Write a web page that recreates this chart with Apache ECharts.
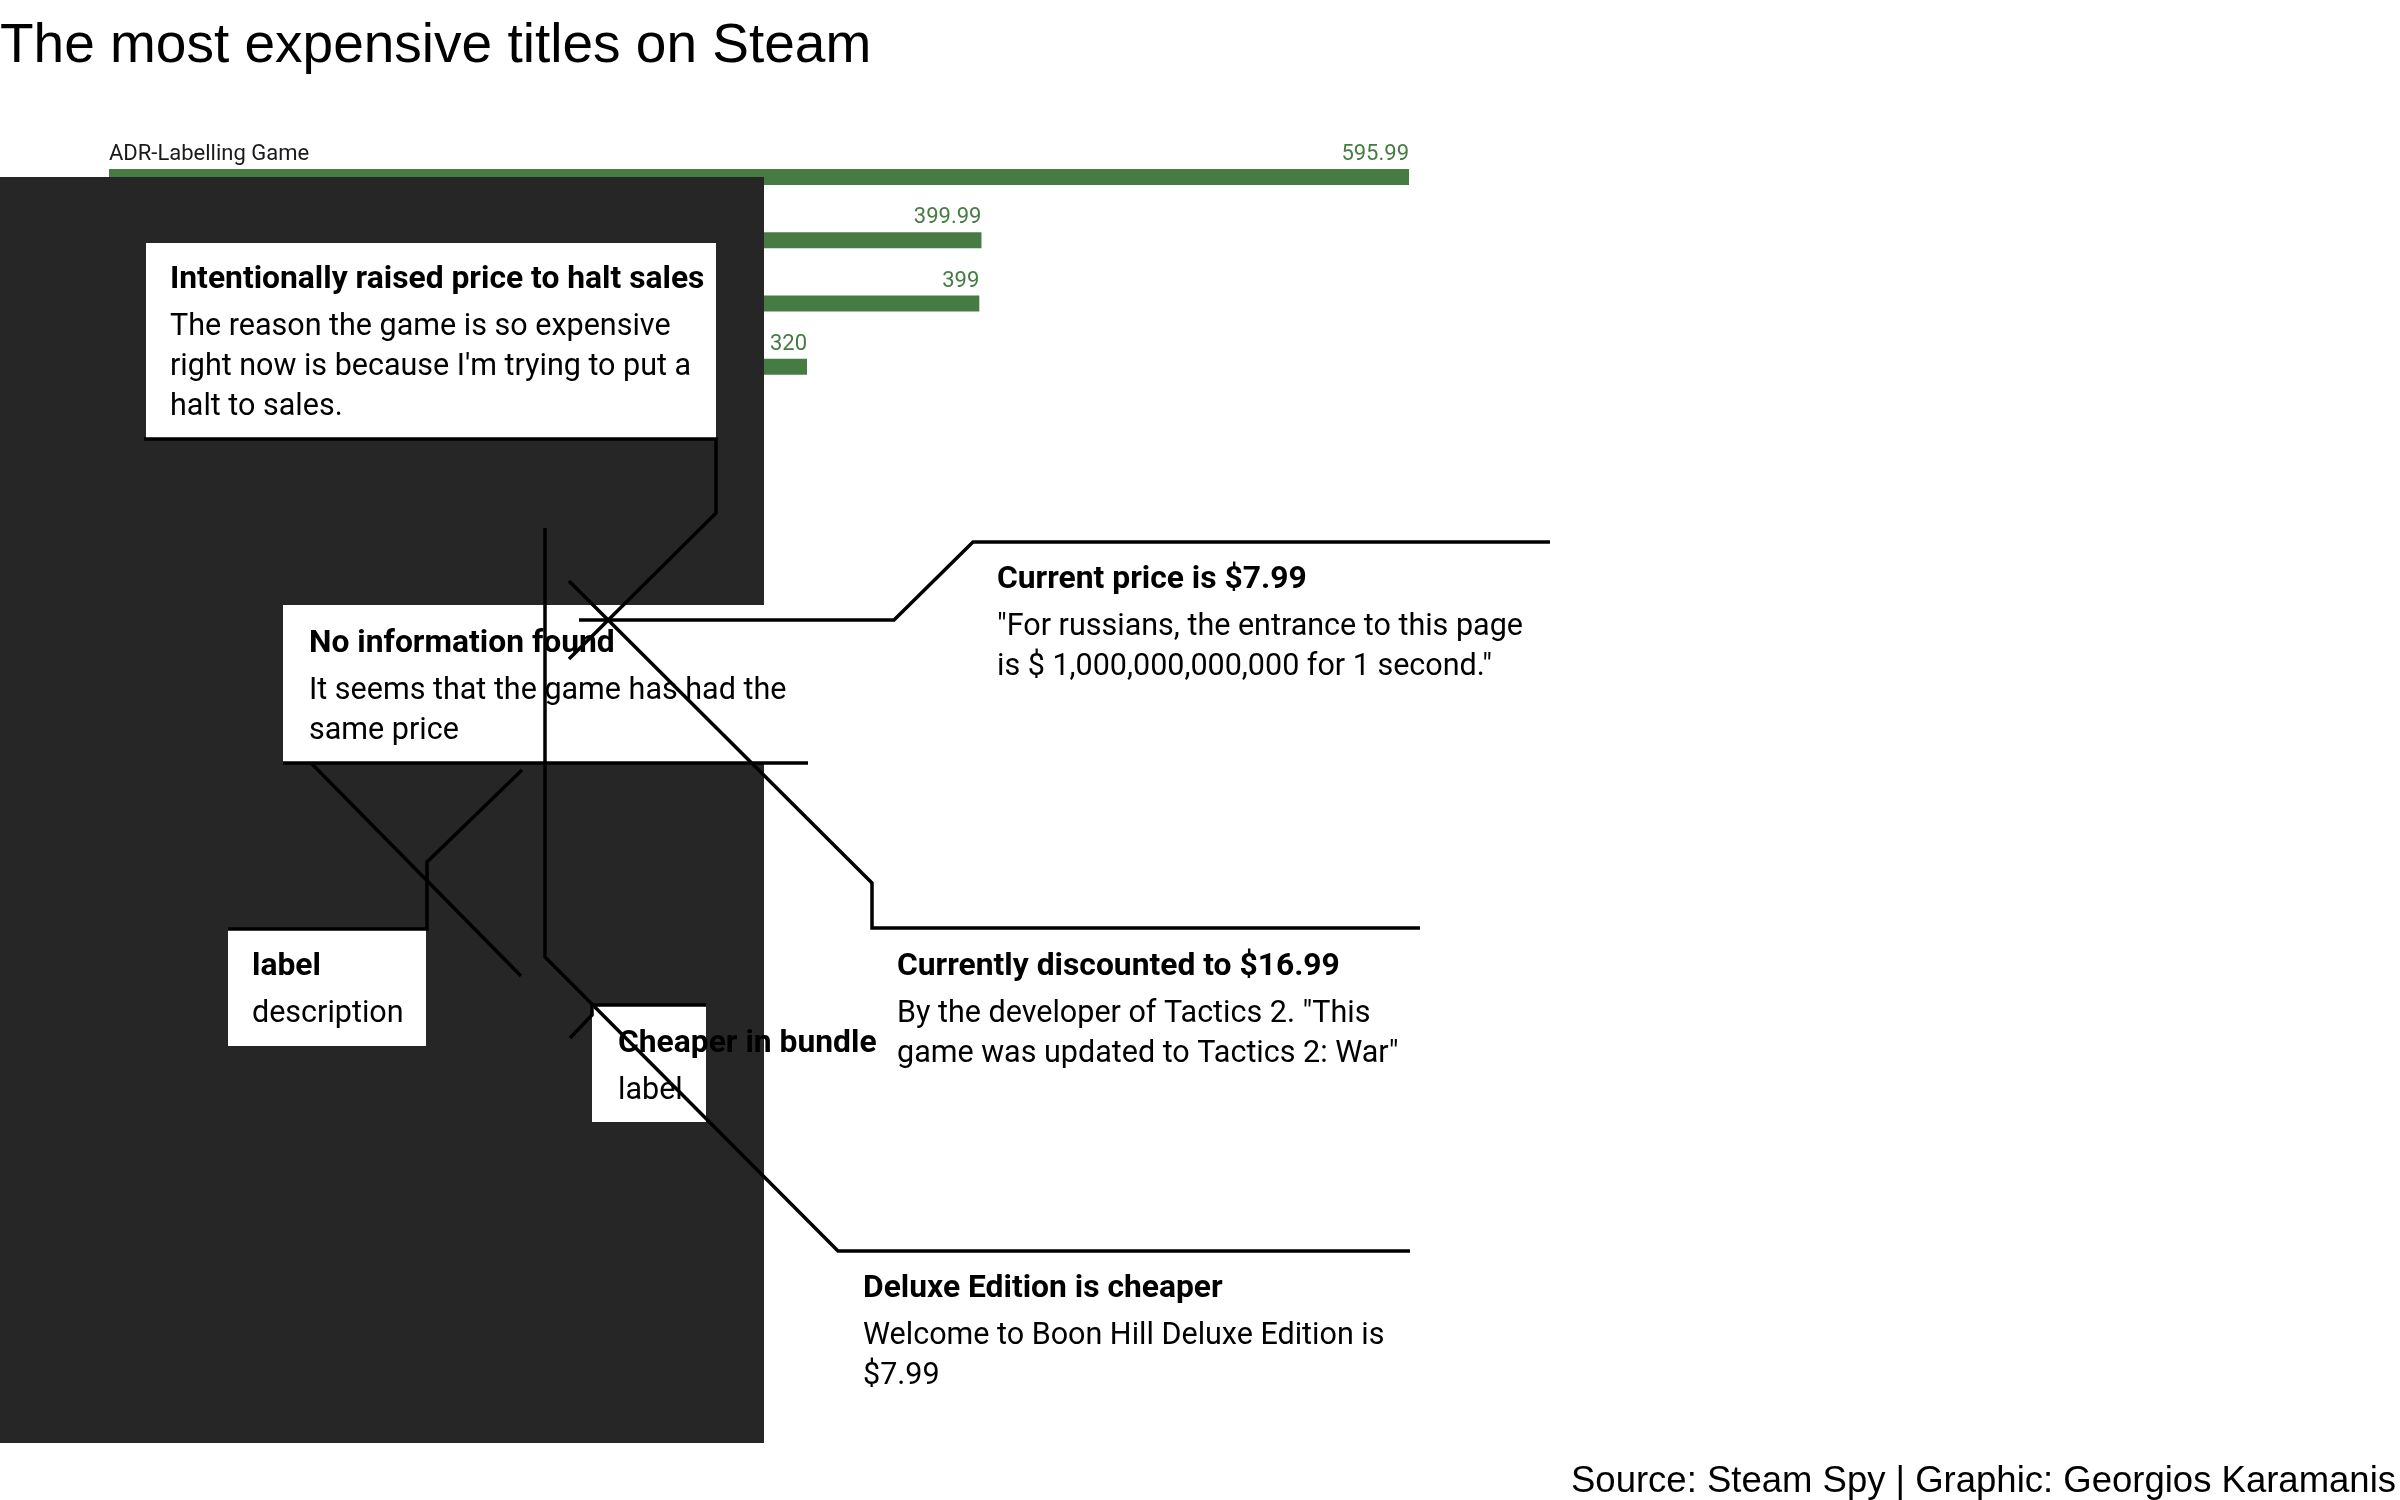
<!DOCTYPE html>
<html>
<head>
<meta charset="utf-8">
<script src="https://cdn.jsdelivr.net/npm/echarts@6/dist/echarts.min.js"></script>
<style>
html,body{margin:0;padding:0;background:#fff;}
#chart{width:2400px;height:1500px;}
</style>
</head>
<body>
<div id="chart"></div>
<script>
// ---------------- DATA ----------------
const rowIds = ['r1', 'r2', 'r3', 'r4'];
// Only the first title name is legible; the rest sit under the dark panel.
const gameNames = ['ADR-Labelling Game', '', '', ''];
const prices = [595.99, 399.99, 399, 320];
const priceLabels = ['595.99', '399.99', '399', '320'];

const chartTitle = 'The most expensive titles on Steam';
const caption = 'Source: Steam Spy | Graphic: Georgios Karamanis';

const noteTitles = [
  'Intentionally raised price to halt sales',
  'No information found',
  'label',
  'Cheaper in bundle',
  'Current price is $7.99',
  'Currently discounted to $16.99',
  'Deluxe Edition is cheaper'
];
const noteDescriptions = [
  ['The reason the game is so expensive', "right now is because I'm trying to put a", 'halt to sales.'],
  ['It seems that the game has had the', 'same price'],
  ['description'],
  ['label'],
  ['"For russians, the entrance to this page', 'is $ 1,000,000,000,000 for 1 second."'],
  ['By the developer of Tactics 2. "This', 'game was updated to Tactics 2: War"'],
  ['Welcome to Boon Hill Deluxe Edition is', '$7.99']
];

// ---------------- LAYOUT (pixels) ----------------
const GREEN = '#467c43';
const BODY_FONT = 'Roboto, "Noto Sans", sans-serif';
const TITLE_SIZE = 31.8, DESC_SIZE = 30.5, DESC_GAP = 47, DESC_LH = 40;
// text anchor (left x, baseline of title) for each note
const noteAnchors = [[170, 291], [309, 655], [252, 978], [618, 1055], [997, 591], [897, 978], [863, 1300]];
// white boxes [x, y, w, h]
const boxes = [[146, 243, 570, 196], [283, 605, 525, 158], [228, 929, 198, 117], [592, 1005, 114, 117]];
const panel = [0, 177, 764, 1266];
const connectors = [
  [[144, 439], [716, 439], [716, 513], [569, 659]],
  [[283, 763], [808, 763]],
  [[311, 763], [521, 976]],
  [[228, 929], [427, 929], [427, 862], [522, 770]],
  [[706, 1005], [592, 1005], [592, 1015], [570, 1038]],
  [[545, 528], [545, 957], [838, 1251], [1410, 1251]],
  [[579, 620], [894, 620], [973, 542], [1550, 542]],
  [[569, 581], [872, 883], [872, 928], [1420, 928]]
];

function textEl(x, baseline, str, size, weight, family, align, z) {
  return {
    type: 'text', z: z || 20, silent: true,
    style: {
      text: str, x: x, y: baseline - 0.35 * size,
      font: weight + ' ' + size + 'px ' + family,
      fill: '#000', align: align || 'left', verticalAlign: 'middle'
    }
  };
}

const graphics = [];
graphics.push({type: 'rect', z: 10, silent: true, shape: {x: panel[0], y: panel[1], width: panel[2], height: panel[3]}, style: {fill: '#262626'}});
boxes.forEach(b => graphics.push({type: 'rect', z: 11, silent: true, shape: {x: b[0], y: b[1], width: b[2], height: b[3]}, style: {fill: '#ffffff'}}));
noteTitles.forEach((t, i) => {
  const a = noteAnchors[i];
  graphics.push(textEl(a[0], a[1], t, TITLE_SIZE, 'bold', BODY_FONT, 'left', 20));
  noteDescriptions[i].forEach((d, j) => {
    graphics.push(textEl(a[0], a[1] + DESC_GAP + j * DESC_LH, d, DESC_SIZE, 'normal', BODY_FONT, 'left', 20));
  });
});
connectors.forEach(p => graphics.push({type: 'polyline', z: 21, silent: true, shape: {points: p}, style: {stroke: '#000', lineWidth: 3.5, fill: null, lineJoin: 'miter'}}));
graphics.push(textEl(0, 66, chartTitle, 55, 'normal', '"Liberation Sans", Arial, sans-serif', 'left', 20));
graphics.push(textEl(2396, 1495, caption, 36.5, 'normal', '"Liberation Sans", Arial, sans-serif', 'right', 20));

const chart = echarts.init(document.getElementById('chart'), null, {renderer: 'canvas'});
chart.setOption({
  animation: false,
  backgroundColor: '#ffffff',
  grid: {left: 109, width: 1300, top: 145.3, height: 253.2, containLabel: false},
  xAxis: {type: 'value', min: 0, max: 'dataMax', show: false},
  yAxis: {type: 'category', data: rowIds, inverse: true, show: false},
  series: [
    {
      type: 'bar', data: prices, barWidth: 16, itemStyle: {color: GREEN}, silent: true,
      label: {
        show: true, position: ['100%', -3.5], align: 'right', verticalAlign: 'bottom',
        color: GREEN, fontFamily: BODY_FONT, fontSize: 22,
        formatter: p => priceLabels[p.dataIndex]
      }
    },
    {
      type: 'bar', data: prices, barWidth: 16, barGap: '-100%', itemStyle: {color: 'rgba(0,0,0,0)'}, silent: true,
      label: {
        show: true, position: [0, -3.5], align: 'left', verticalAlign: 'bottom',
        color: '#1a1a1a', fontFamily: BODY_FONT, fontSize: 22,
        formatter: p => gameNames[p.dataIndex]
      }
    }
  ],
  graphic: {elements: graphics}
});
</script>
</body>
</html>
